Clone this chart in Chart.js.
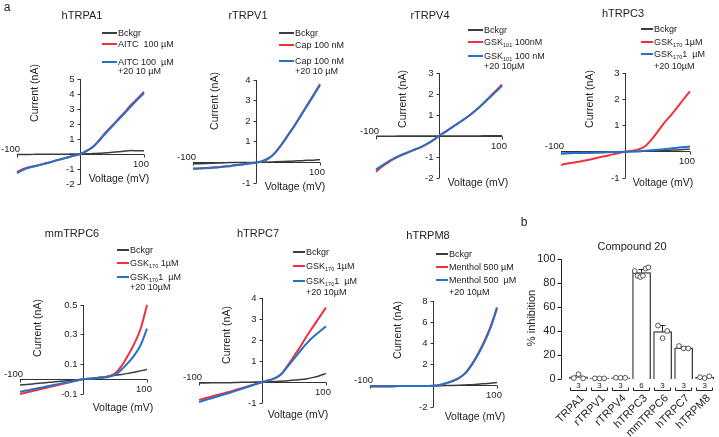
<!DOCTYPE html>
<html>
<head>
<meta charset="utf-8">
<script src="https://cdn.jsdelivr.net/npm/chart.js@4.4.1/dist/chart.umd.min.js"></script>
<style>
body { margin: 0; background: #fff; }
#fig { position: relative; width: 719px; height: 437px; overflow: hidden; font-family: "Liberation Sans", Arial, sans-serif; color: #222; }
#fig canvas { position: absolute; left: 0; top: 0; }
.t { position: absolute; white-space: nowrap; line-height: 1; }
.ttl { font-size: 11px; transform: translate(-50%, -50%); }
.big { font-size: 12px; }
.lg { font-size: 9px; transform: translateY(-50%); }
.ln { position: absolute; height: 2px; }
.t sub { font-size: 5.5px; vertical-align: -2px; line-height: 0; }
</style>
</head>
<body>
<div id="fig"></div>
<script>
// values
const voltage = [-100,-90,-80,-70,-60,-50,-40,-30,-20,-10,0,10,20,30,40,50,60,70,80,90,100];

const trpa1Bckgr = [-0.03,-0.03,-0.03,-0.02,-0.02,-0.02,-0.01,-0.01,-0.01,0,0,0.01,0.03,0.05,0.08,0.11,0.15,0.2,0.23,0.21,0.22];
const trpa1Aitc  = [-1.2,-1.0,-0.87,-0.78,-0.68,-0.57,-0.45,-0.33,-0.22,-0.11,0,0.22,0.5,0.95,1.45,1.9,2.35,2.8,3.3,3.7,4.15];
const trpa1Block = [-1.28,-1.05,-0.9,-0.8,-0.69,-0.58,-0.46,-0.34,-0.23,-0.11,0,0.21,0.48,0.92,1.4,1.85,2.3,2.75,3.2,3.65,4.05];
const trpa1Ticks = [-2,-1,0,1,2,3,4,5];

const trpv1Bckgr = [-0.07,-0.06,-0.05,-0.04,-0.03,-0.02,-0.01,0,0,0,0,0.01,0.02,0.03,0.04,0.05,0.07,0.08,0.1,0.11,0.13];
const trpv1Cap   = [-0.3,-0.29,-0.27,-0.25,-0.23,-0.2,-0.17,-0.13,-0.09,-0.04,0,0.07,0.22,0.5,0.9,1.35,1.8,2.3,2.8,3.3,3.8];
const trpv1Block = [-0.31,-0.3,-0.28,-0.26,-0.23,-0.2,-0.17,-0.13,-0.09,-0.04,0,0.07,0.21,0.49,0.88,1.33,1.78,2.27,2.76,3.25,3.75];
const trpv1Ticks = [-1,0,1,2,3,4];

const trpv4Bckgr = [-0.01,-0.01,-0.01,-0.01,0,0,0,0,0,0,0,0,0,0,0,0,0,0.01,0.01,0.01,0.01];
const trpv4Gsk   = [-1.7,-1.45,-1.25,-1.07,-0.92,-0.8,-0.67,-0.55,-0.4,-0.22,0,0.2,0.4,0.6,0.8,1.02,1.27,1.55,1.85,2.15,2.45];
const trpv4Block = [-1.6,-1.4,-1.21,-1.04,-0.9,-0.78,-0.66,-0.54,-0.39,-0.21,0,0.2,0.4,0.6,0.8,1.01,1.26,1.53,1.82,2.1,2.4];
const trpv4Ticks = [-2,-1,0,1,2,3];

const trpc3Bckgr = [-0.08,-0.07,-0.06,-0.06,-0.05,-0.04,-0.03,-0.02,-0.02,-0.01,0,0.01,0.01,0.02,0.03,0.04,0.05,0.06,0.07,0.09,0.1];
const trpc3Gsk   = [-0.5,-0.45,-0.41,-0.37,-0.32,-0.27,-0.21,-0.16,-0.1,-0.05,0,0.04,0.09,0.2,0.45,0.77,1.1,1.38,1.68,2.0,2.3];
const trpc3Block = [-0.06,-0.05,-0.05,-0.04,-0.04,-0.03,-0.03,-0.02,-0.01,-0.01,0,0.01,0.02,0.04,0.06,0.08,0.1,0.12,0.15,0.18,0.2];
const trpc3Ticks = [-1,0,1,2,3];

const trpc6Bckgr = [-0.04,-0.036,-0.032,-0.028,-0.024,-0.02,-0.016,-0.012,-0.008,-0.004,0,0.005,0.01,0.015,0.02,0.026,0.032,0.039,0.047,0.056,0.065];
const trpc6Gsk   = [-0.1,-0.09,-0.08,-0.07,-0.06,-0.05,-0.04,-0.03,-0.02,-0.01,0,0.003,0.007,0.012,0.02,0.04,0.09,0.16,0.24,0.34,0.5];
const trpc6Block = [-0.085,-0.077,-0.068,-0.06,-0.051,-0.042,-0.034,-0.025,-0.017,-0.008,0,0.003,0.006,0.01,0.016,0.03,0.065,0.11,0.16,0.23,0.34];
const trpc6Ticks = [-0.1,0.1,0.3,0.5];

const trpc7Bckgr = [-0.05,-0.045,-0.04,-0.035,-0.03,-0.03,-0.02,-0.015,-0.01,-0.005,0,0.01,0.02,0.04,0.06,0.09,0.12,0.16,0.22,0.3,0.4];
const trpc7Gsk   = [-0.85,-0.77,-0.69,-0.61,-0.53,-0.45,-0.36,-0.27,-0.18,-0.09,0,0.08,0.18,0.4,0.8,1.25,1.7,2.2,2.65,3.1,3.55];
const trpc7Block = [-0.95,-0.86,-0.77,-0.68,-0.59,-0.5,-0.4,-0.3,-0.2,-0.1,0,0.08,0.18,0.38,0.75,1.12,1.5,1.85,2.15,2.4,2.65];
const trpc7Ticks = [-1,0,1,2,3,4];

const trpm8Bckgr   = [-0.08,-0.07,-0.07,-0.06,-0.06,-0.05,-0.04,-0.03,-0.02,-0.01,0,0.01,0.02,0.03,0.05,0.08,0.11,0.15,0.2,0.25,0.3];
const trpm8Menthol = [-0.05,-0.05,-0.04,-0.04,-0.03,-0.03,-0.02,-0.02,-0.02,-0.01,0,0.08,0.25,0.45,0.75,1.2,2.0,3.0,4.2,5.6,7.4];
const trpm8Block   = [-0.05,-0.05,-0.04,-0.04,-0.03,-0.03,-0.02,-0.02,-0.02,-0.01,0,0.08,0.24,0.44,0.73,1.17,1.95,2.93,4.1,5.5,7.3];
const trpm8Ticks = [-2,0,2,4,6,8];

const gsk170Legend = ['Bckgr', 'GSK<sub>170</sub> 1µM', 'GSK<sub>170</sub>1&nbsp; µM', '+20 10µM'];

const barCategories = ['TRPA1','rTRPV1','rTRPV4','hTRPC3','mmTRPC6','hTRPC7','hTRPM8'];
const barMeans  = [1.8, 0.5, 0.9, 88.7, 39.5, 26, 1.5];
const barSd     = [1.5, 0, 0, 2.6, 5, 1.5, 0];
const barN      = [3, 3, 3, 6, 3, 3, 3];
const barPoints = [[0.8,4,0.5],[0.5,0.5,0.5],[1,1,1],[90,86,85,86,92,93],[44.5,34,40],[27.5,25.5,25.5],[1.5,0.8,2.2]];
const barTicks  = [0,20,40,60,80,100];

const RED = '#f0313c', BLUE = '#2472c8', GREY = '#3c3c3c', INK = '#222';
const FONT = '"Liberation Sans", Arial, sans-serif';
const fig = document.getElementById('fig');

const panels = [
  { name: 'hTRPA1', bg: trpa1Bckgr, ag: trpa1Aitc, bl: trpa1Block, ticks: trpa1Ticks,
    legend: ['Bckgr', 'AITC&nbsp; 100 µM', 'AITC 100&nbsp; µM', '+20 10 µM'],
    px: [17, 144], py: [79, 184], title: [82, 15], cur: [35, 93], volt: [119, 179],
    leg: { x1: 102, x2: 117, tx: 118, y: [33, 44, 62, 71] } },
  { name: 'rTRPV1', bg: trpv1Bckgr, ag: trpv1Cap, bl: trpv1Block, ticks: trpv1Ticks,
    legend: ['Bckgr', 'Cap 100 nM', 'Cap 100 nM', '+20 10 µM'],
    px: [193, 320], py: [80, 183], title: [248, 15], cur: [215, 101], volt: [295, 187],
    leg: { x1: 279, x2: 294, tx: 295, y: [33, 45, 61, 71] } },
  { name: 'rTRPV4', bg: trpv4Bckgr, ag: trpv4Gsk, bl: trpv4Block, ticks: trpv4Ticks,
    legend: ['Bckgr', 'GSK<sub>101</sub> 100nM', 'GSK<sub>101</sub> 100 nM', '+20 10µM'],
    px: [376, 502], py: [73, 178], title: [430, 15], cur: [403, 99], volt: [478, 183],
    leg: { x1: 468, x2: 483, tx: 484, y: [30, 42, 56, 66] } },
  { name: 'hTRPC3', bg: trpc3Bckgr, ag: trpc3Gsk, bl: trpc3Block, ticks: trpc3Ticks,
    legend: gsk170Legend,
    px: [561, 690], py: [73, 178], title: [623, 13], cur: [590, 99], volt: [663, 183],
    leg: { x1: 641, x2: 653, tx: 654, y: [29, 42, 54, 66] } },
  { name: 'mmTRPC6', bg: trpc6Bckgr, ag: trpc6Gsk, bl: trpc6Block, ticks: trpc6Ticks,
    legend: gsk170Legend,
    px: [20, 147], py: [305, 394], title: [72, 233], cur: [38, 328], volt: [123, 408],
    leg: { x1: 117, x2: 129, tx: 130, y: [250, 263, 277, 287] } },
  { name: 'hTRPC7', bg: trpc7Bckgr, ag: trpc7Gsk, bl: trpc7Block, ticks: trpc7Ticks,
    legend: gsk170Legend,
    px: [199, 326], py: [298, 403], title: [258, 233], cur: [227, 335], volt: [298, 415],
    leg: { x1: 293, x2: 305, tx: 306, y: [252, 266, 281, 292] } },
  { name: 'hTRPM8', bg: trpm8Bckgr, ag: trpm8Menthol, bl: trpm8Block, ticks: trpm8Ticks,
    legend: ['Bckgr', 'Menthol 500 µM', 'Menthol 500&nbsp; µM', '+20 10µM'],
    px: [370, 497], py: [301, 407], title: [428, 235], cur: [398, 330], volt: [475, 417],
    leg: { x1: 436, x2: 448, tx: 449, y: [254, 267, 280, 292] } }
];

function addText(html, cls, x, y) {
  const d = document.createElement('div');
  d.className = 't ' + cls;
  d.innerHTML = html;
  d.style.left = x + 'px';
  d.style.top = y + 'px';
  fig.appendChild(d);
}
function addLine(x1, x2, y, color) {
  const d = document.createElement('div');
  d.className = 'ln';
  d.style.left = x1 + 'px';
  d.style.width = (x2 - x1) + 'px';
  d.style.top = (y - 1) + 'px';
  d.style.background = color;
  fig.appendChild(d);
}
function newCanvas() {
  const c = document.createElement('canvas');
  c.width = 719; c.height = 437;
  fig.appendChild(c);
  return c;
}
const crisp = v => Math.round(v - 0.5) + 0.5;

// crossing axes through the origin, drawn from the chart's own scales
const ivAxes = {
  id: 'ivAxes',
  beforeDatasetsDraw(chart, args, opts) {
    const { ctx, scales: { x, y } } = chart;
    const p = opts.panel;
    const x0 = crisp(x.getPixelForValue(0)), y0 = crisp(y.getPixelForValue(0));
    const xl = x.getPixelForValue(-100), xr = x.getPixelForValue(100);
    const yT = y.getPixelForValue(p.ticks[p.ticks.length - 1]);
    const yB = y.getPixelForValue(p.ticks[0]);
    ctx.save();
    ctx.strokeStyle = '#333';
    ctx.lineWidth = 1;
    ctx.beginPath();
    ctx.moveTo(xl, y0); ctx.lineTo(xr, y0);
    ctx.moveTo(crisp(xl), y0); ctx.lineTo(crisp(xl), y0 + 3);
    ctx.moveTo(crisp(xr), y0); ctx.lineTo(crisp(xr), y0 + 3);
    ctx.moveTo(x0, yT); ctx.lineTo(x0, yB);
    p.ticks.forEach(t => {
      const ty = crisp(y.getPixelForValue(t));
      ctx.moveTo(x0 - 3, ty); ctx.lineTo(x0, ty);
    });
    ctx.stroke();

    ctx.fillStyle = INK;
    ctx.font = '9.5px ' + FONT;
    ctx.textAlign = 'right';
    ctx.textBaseline = 'middle';
    p.ticks.forEach(t => {
      if (t === 0) return;
      ctx.fillText(String(t), x0 - 6, y.getPixelForValue(t));
    });
    ctx.fillText('-100', xl + 3, y0 - 5);
    ctx.textAlign = 'center';
    ctx.fillText('100', xr - 3, y0 + 10);

    ctx.font = '10.5px ' + FONT;
    ctx.fillText('Voltage (mV)', p.volt[0], p.volt[1]);
    ctx.translate(p.cur[0], p.cur[1]);
    ctx.rotate(-Math.PI / 2);
    ctx.fillText('Current (nA)', 0, 0);
    ctx.restore();
  }
};

panels.forEach(p => {
  const pts = arr => voltage.map((v, i) => ({ x: v, y: arr[i] }));
  new Chart(newCanvas(), {
    type: 'line',
    data: {
      datasets: [
        { data: pts(p.bl), borderColor: BLUE },
        { data: pts(p.ag), borderColor: RED },
        { data: pts(p.bg), borderColor: GREY, borderWidth: 1.5 }
      ]
    },
    options: {
      responsive: false,
      animation: false,
      devicePixelRatio: 1,
      layout: { padding: { left: p.px[0], right: 719 - p.px[1], top: p.py[0], bottom: 437 - p.py[1] } },
      scales: {
        x: { type: 'linear', min: -100, max: 100, display: false },
        y: { type: 'linear', min: p.ticks[0], max: p.ticks[p.ticks.length - 1], display: false }
      },
      elements: {
        point: { radius: 0 },
        line: { borderWidth: 2, cubicInterpolationMode: 'monotone', fill: false }
      },
      datasets: { line: { clip: false } },
      plugins: { legend: { display: false }, tooltip: { enabled: false }, ivAxes: { panel: p } }
    },
    plugins: [ivAxes]
  });

  addText(p.name, 'ttl', p.title[0], p.title[1]);
  const L = p.leg;
  addLine(L.x1, L.x2, L.y[0], GREY);
  addLine(L.x1, L.x2, L.y[1], RED);
  addLine(L.x1, L.x2, L.y[2], BLUE);
  p.legend.forEach((s, i) => addText(s, 'lg', L.tx, L.y[i]));
});

// panel b: inhibition bars with individual points
const barDecor = {
  id: 'barDecor',
  afterDatasetDraw(chart, args) {
    if (args.index !== 1) return;
    const { ctx, scales: { x, y } } = chart;
    ctx.save();
    ctx.strokeStyle = INK;
    ctx.lineWidth = 1;
    ctx.beginPath();
    barMeans.forEach((m, i) => {
      if (!barSd[i]) return;
      const xc = crisp(x.getPixelForValue(i));
      const y1 = y.getPixelForValue(m), y2 = crisp(y.getPixelForValue(m + barSd[i]));
      ctx.moveTo(xc, y1); ctx.lineTo(xc, y2);
      ctx.moveTo(xc - 3, y2); ctx.lineTo(xc + 3, y2);
    });
    ctx.stroke();
    ctx.restore();
  },
  afterDraw(chart) {
    const { ctx, chartArea, scales: { x, y } } = chart;
    const ax = crisp(chartArea.left - 7);
    ctx.save();
    ctx.strokeStyle = INK;
    ctx.lineWidth = 1;
    ctx.beginPath();
    ctx.moveTo(ax, y.getPixelForValue(100)); ctx.lineTo(ax, y.getPixelForValue(0));
    barTicks.forEach(t => {
      const ty = crisp(y.getPixelForValue(t));
      ctx.moveTo(ax - 4, ty); ctx.lineTo(ax, ty);
    });
    const by = crisp(chartArea.bottom + 11);
    barCategories.forEach((c, i) => {
      const xc = x.getPixelForValue(i);
      ctx.moveTo(crisp(xc - 8), by - 3); ctx.lineTo(crisp(xc - 8), by);
      ctx.lineTo(crisp(xc + 8), by); ctx.lineTo(crisp(xc + 8), by - 3);
    });
    ctx.stroke();

    ctx.fillStyle = INK;
    ctx.font = '11px ' + FONT;
    ctx.textAlign = 'right';
    ctx.textBaseline = 'middle';
    barTicks.forEach(t => ctx.fillText(String(t), ax - 6, y.getPixelForValue(t)));

    ctx.font = '8px ' + FONT;
    ctx.textAlign = 'center';
    barCategories.forEach((c, i) => ctx.fillText(String(barN[i]), x.getPixelForValue(i), by - 5));

    ctx.font = '11px ' + FONT;
    ctx.textAlign = 'right';
    barCategories.forEach((c, i) => {
      ctx.save();
      ctx.translate(x.getPixelForValue(i) + 4, by + 6);
      ctx.rotate(-Math.PI / 4);
      ctx.fillText(c, 0, 0);
      ctx.restore();
    });

    ctx.textAlign = 'center';
    ctx.translate(532, 318);
    ctx.rotate(-Math.PI / 2);
    ctx.fillText('% inhibition', 0, 0);
    ctx.restore();
  }
};

const scatterPts = [];
barPoints.forEach((vals, i) => {
  const step = vals.length > 3 ? 0.13 : 0.22;
  vals.forEach((v, k) => scatterPts.push({ x: i + (k - (vals.length - 1) / 2) * step, y: v }));
});

new Chart(newCanvas(), {
  type: 'scatter',
  data: {
    datasets: [
      { data: scatterPts, pointRadius: 2.4, pointBackgroundColor: '#fff',
        pointBorderColor: '#444', pointBorderWidth: 0.9, clip: false },
      { type: 'bar', data: barMeans.map((m, i) => ({ x: i, y: m })), grouped: false,
        backgroundColor: '#fff', borderColor: INK, borderWidth: 1.2,
        barThickness: 18, minBarLength: 1 }
    ]
  },
  options: {
    responsive: false,
    animation: false,
    devicePixelRatio: 1,
    layout: { padding: { left: 568, right: 0, top: 259, bottom: 58 } },
    scales: {
      x: { type: 'linear', min: -0.5, max: 6.45, display: false, offset: false },
      y: { type: 'linear', min: 0, max: 100, display: false }
    },
    plugins: { legend: { display: false }, tooltip: { enabled: false } }
  },
  plugins: [barDecor]
});

addText('Compound 20', 'ttl', 632, 246);
addText('a', 'ttl big', 7, 7);
addText('b', 'ttl big', 524, 222);
</script>
</body>
</html>
